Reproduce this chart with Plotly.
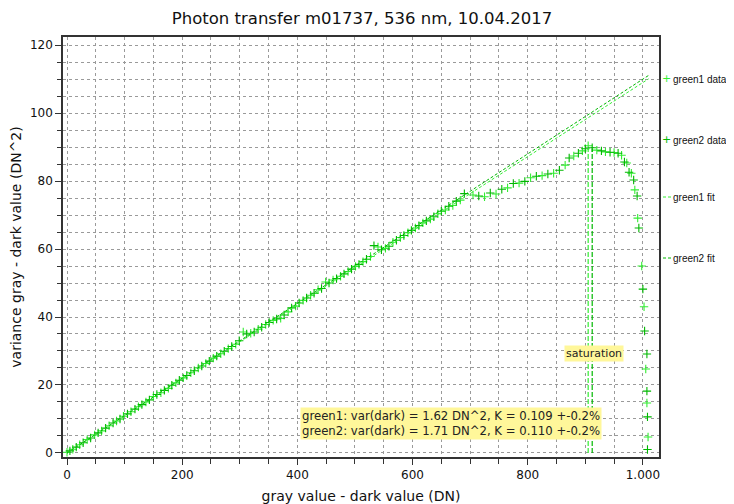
import plotly.graph_objects as go

# ---------------- data ----------------
g1_x = [0, 10, 22, 35, 48, 60, 73, 86, 98, 111, 124, 137, 150, 163, 176, 189, 202, 215, 228, 241,
        254, 267, 280, 293, 306, 319, 332, 345, 358, 371, 384, 397, 410, 423, 436, 449, 462, 475,
        488, 501, 514, 527, 540, 553, 566, 579, 592, 605, 618, 631, 644, 657, 670, 683,
        705, 725, 745, 765, 785, 805, 825, 845, 865, 880, 895, 905, 920, 935, 950, 963, 972,
        980, 986, 991, 998, 1002, 1005, 1007, 1009]
g1_y = [0.2, 1.1, 2.4, 3.9, 5.3, 6.5, 8.0, 9.4, 10.8, 12.1, 13.6, 15.0, 16.6, 17.7, 19.0, 20.6,
        22.1, 23.6, 25.0, 26.3, 27.9, 29.2, 30.7, 32.0, 35.6, 35.2, 36.4, 37.8, 39.0, 39.6, 41.5,
        43.2, 44.9, 46.4, 48.0, 50.3, 50.9, 52.0, 53.4, 54.9, 56.3, 57.8, 60.6, 60.2, 62.0, 63.4,
        64.8, 66.2, 67.7, 68.8, 70.4, 71.5, 72.8, 74.4,
        75.9, 75.4, 76.2, 78.0, 79.4, 81.0, 81.6, 82.3, 84.7, 87.4, 88.9, 90.4, 89.1, 88.6, 88.4,
        87.6, 85.3, 82.3, 77.4, 69.1, 55.0, 43.0, 24.7, 14.7, 4.7]

g2_x = [5, 16, 28, 41, 54, 67, 80, 92, 105, 118, 130, 143, 156, 169, 182, 195, 208, 221, 234, 247,
        260, 273, 286, 299, 312, 325, 338, 351, 364, 377, 390, 403, 416, 429, 442, 455, 468, 481,
        494, 507, 520, 533, 546, 559, 572, 585, 598, 611, 624, 637, 650, 663, 676, 690,
        715, 735, 755, 775, 795, 815, 835, 855, 872, 888, 900, 912, 928, 943, 957, 968, 976,
        984, 990, 993, 1000, 1003, 1007, 1007, 1008, 1008]
g2_y = [0.6, 1.7, 3.0, 4.4, 5.9, 7.3, 8.8, 10.0, 11.5, 12.9, 14.2, 15.6, 17.2, 18.4, 19.9, 21.4,
        22.8, 24.2, 25.6, 27.0, 28.5, 29.9, 31.3, 33.0, 35.0, 35.6, 37.0, 38.4, 39.4, 40.6, 42.7,
        44.1, 45.6, 47.0, 48.4, 50.0, 51.3, 52.7, 54.1, 55.5, 57.0, 61.0, 59.8, 60.8, 62.6, 64.0,
        65.5, 66.9, 68.3, 69.5, 71.1, 72.6, 74.1, 76.3,
        75.6, 76.5, 77.6, 79.3, 79.9, 81.4, 82.1, 83.2, 86.8, 88.2, 89.5, 89.8, 88.9, 88.5, 88.2,
        85.6, 82.6, 80.3, 75.6, 66.2, 48.2, 35.9, 29.1, 18.2, 10.6, 1.0]

fit_x = [0, 1010]
K1 = 0.109
K2 = 0.110

sat_x = [905, 912]
sat_top = [89.8, 89.6]

x_tickvals = [0, 200, 400, 600, 800, 1000]
x_ticktext = ["0", "200", "400", "600", "800", "1.000"]

legend_names = ["green1 data", "green2 data", "green1 fit", "green2 fit"]

title = "Photon transfer m01737, 536 nm, 10.04.2017"
info_text = ("green1: var(dark) = 1.62 DN^2, K = 0.109 +-0.2%<br>"
             "green2: var(dark) = 1.71 DN^2, K = 0.110 +-0.2%")

C1 = "#33EE33"
C2 = "#00B800"
FONT = "DejaVu Sans"

# plot-area geometry (page pixels) used only to place the side legend
PX0, PX1, PY0, PY1 = 63, 659, 37, 457
FIG_W, FIG_H = 726, 496


def px(xpix):
    return (xpix - PX0) / (PX1 - PX0)


def py(ypix):
    return (PY1 - ypix) / (PY1 - PY0)


fig = go.Figure()

fig.add_trace(go.Scatter(
    x=g1_x, y=g1_y, mode="markers", name=legend_names[0], showlegend=False,
    marker=dict(symbol="cross-thin", size=6, line=dict(color=C1, width=1.1), color=C1)))
fig.add_trace(go.Scatter(
    x=g2_x, y=g2_y, mode="markers", name=legend_names[1], showlegend=False,
    marker=dict(symbol="cross-thin", size=6, line=dict(color=C2, width=1.1), color=C2)))
fig.add_trace(go.Scatter(
    x=fit_x, y=[K1 * v for v in fit_x], mode="lines", name=legend_names[2], showlegend=False,
    line=dict(color=C1, width=1, dash="3px,2px")))
fig.add_trace(go.Scatter(
    x=fit_x, y=[K2 * v for v in fit_x], mode="lines", name=legend_names[3], showlegend=False,
    line=dict(color=C2, width=1, dash="3px,2px")))

for sx, st, c in zip(sat_x, sat_top, [C1, C2]):
    fig.add_trace(go.Scatter(
        x=[sx, sx], y=[0, st], mode="lines", showlegend=False,
        line=dict(color=c, width=1.2, dash="5px,2px")))

axis_common = dict(
    showline=True, linecolor="#333333", linewidth=1.5, mirror=True,
    ticks="outside", ticklen=6, tickcolor="#333333",
    showgrid=True, gridcolor="#9a9a9a", griddash="dot", gridwidth=1,
    zeroline=False, automargin=False,
    tickfont=dict(family=FONT, size=12, color="#111111"),
)

fig.update_xaxes(
    **axis_common, range=[-7, 1028],
    tickvals=x_tickvals, ticktext=x_ticktext,
    minor=dict(dtick=50, tick0=0, ticks="outside", ticklen=5, tickcolor="#333333",
               showgrid=True, gridcolor="#9a9a9a", griddash="dot"),
    title=dict(text="gray value - dark value (DN)", font=dict(family=FONT, size=14, color="#111111"),
               standoff=10),
)
fig.update_yaxes(
    **axis_common, range=[-1.2, 122.4], dtick=20, tick0=0,
    minor=dict(dtick=5, tick0=0, ticks="outside", ticklen=4, tickcolor="#333333",
               showgrid=True, gridcolor="#9a9a9a", griddash="dot"),
    title=dict(text="variance gray - dark value (DN^2)", font=dict(family=FONT, size=14, color="#111111"),
               standoff=5),
)

fig.add_annotation(x=915, y=29.4, xref="x", yref="y", text="saturation", showarrow=False,
                   bgcolor="#FFF79A", font=dict(family=FONT, size=11, color="#222222"),
                   borderpad=1)
fig.add_annotation(x=404, y=8.8, xref="x", yref="y", text=info_text, showarrow=False,
                   xanchor="left", align="left", bgcolor="#FFF79A",
                   font=dict(family=FONT, size=11.7, color="#222222"), borderpad=1)

# side legend (symbols + names)
leg_y = [79, 140, 197, 258]
leg_col = [C1, C2, C1, C2]
for i, (name, yy, c) in enumerate(zip(legend_names, leg_y, leg_col)):
    fig.add_annotation(x=px(672), y=py(yy), xref="paper", yref="paper", text=name,
                       showarrow=False, xanchor="left", yanchor="middle", borderpad=0,
                       font=dict(family="Liberation Sans", size=10, color="#111111"))
    if i < 2:
        fig.add_annotation(x=px(666), y=py(yy - 1), xref="paper", yref="paper", text="+",
                           showarrow=False, xanchor="center", yanchor="middle",
                           font=dict(family=FONT, size=11, color=c))
    else:
        fig.add_shape(type="line", xref="paper", yref="paper",
                      x0=px(663), x1=px(671), y0=py(yy), y1=py(yy),
                      line=dict(color=c, width=1, dash="3px,2px"))

fig.update_layout(
    width=FIG_W, height=FIG_H,
    margin=dict(l=55, r=FIG_W - 55 - 596, t=29, b=47, autoexpand=False),
    paper_bgcolor="white", plot_bgcolor="white",
    title=dict(text=title, xref="container", x=(362 - 8) / FIG_W, xanchor="center",
               y=0.98, yanchor="middle",
               font=dict(family=FONT, size=16.5, color="#111111")),
    showlegend=False,
)

fig.write_html("out.html")
